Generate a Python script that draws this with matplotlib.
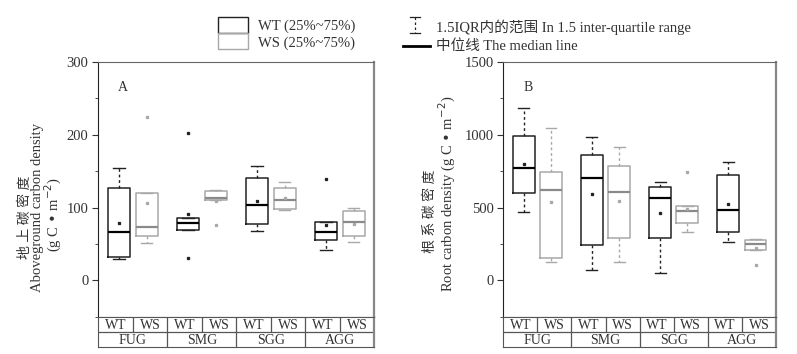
import matplotlib
matplotlib.use('Agg')
import matplotlib.pyplot as plt
from matplotlib.patches import Rectangle
from matplotlib.lines import Line2D

plt.rcParams['font.family'] = ['Liberation Serif', 'Noto Sans CJK SC']

groups = ['FUG', 'SMG', 'SGG', 'AGG']
types = ['WT', 'WS']

# panel A: aboveground carbon density
a_wt_lo = [28.8, 68.7, 67.3, 41.2]
a_wt_q1 = [31.6, 68.7, 77.0, 55.8]
a_wt_med = [66.8, 79.0, 103.9, 66.0]
a_wt_q3 = [127.0, 85.0, 140.0, 79.7]
a_wt_hi = [154.0, 85.0, 157.5, 79.7]
a_wt_mean = [78.7, 90.6, 108.5, 75.5]
a_wt_out = [[], [202.0, 30.2], [], [139.0]]

a_ws_lo = [50.8, 110.3, 96.0, 52.6]
a_ws_q1 = [60.8, 110.3, 97.5, 61.3]
a_ws_med = [73.6, 112.6, 110.3, 80.0]
a_ws_q3 = [119.5, 122.7, 127.3, 94.8]
a_ws_hi = [119.5, 124.0, 135.0, 99.0]
a_ws_mean = [105.7, 109.0, 113.0, 77.0]
a_ws_out = [[224.7], [75.5], [], []]

# panel B: root carbon density
b_wt_lo = [468, 69, 48, 265]
b_wt_q1 = [599, 244, 290, 334]
b_wt_med = [770, 700, 569, 484]
b_wt_q3 = [993, 864, 641, 726]
b_wt_hi = [1185, 984, 675, 816]
b_wt_mean = [797, 595, 465, 526]
b_wt_out = [[], [], [], []]

b_ws_lo = [124, 124, 332, 210]
b_ws_q1 = [152, 290, 396, 210]
b_ws_med = [620, 606, 475, 251]
b_ws_q3 = [742, 788, 512, 277]
b_ws_hi = [1044, 913, 512, 283]
b_ws_mean = [535, 544, 493, 225]
b_ws_out = [[], [], [744], [106]]

W, H = 797, 354
fig = plt.figure(figsize=(W / 100, H / 100), dpi=100)
TXT = '#333333'
FS = 10


def stats(lo, q1, med, q3, hi, mean, out):
    return [dict(whislo=lo[i], q1=q1[i], med=med[i], q3=q3[i], whishi=hi[i],
                 mean=mean[i], fliers=out[i]) for i in range(len(lo))]


def draw_boxes(ax, st, pos, color, medcolor):
    ax.bxp(st, positions=pos, widths=0.64, showmeans=True, patch_artist=False,
           boxprops=dict(color=color, lw=1.1),
           whiskerprops=dict(color=color, lw=1.0, ls=(0, (2, 2))),
           capprops=dict(color=color, lw=1.0),
           medianprops=dict(color=medcolor, lw=1.6),
           meanprops=dict(marker='s', markersize=1.4, markerfacecolor=color,
                          markeredgecolor=color),
           flierprops=dict(marker='s', markersize=1.4, markerfacecolor=color,
                           markeredgecolor=color, ls='none'))


def panel(left_px, right_px, ylim, ticks, minor, wt, ws, letter):
    l = left_px / W
    w = (right_px - left_px) / W
    ax = fig.add_axes([l, 1 - 316.7 / H, w, (316.7 - 62) / H])
    centers = [1, 3, 5, 7]
    draw_boxes(ax, wt, [c - 0.4 for c in centers], '#222222', '#000000')
    draw_boxes(ax, ws, [c + 0.4 for c in centers], '#a8a8a8', '#8a8a8a')
    ax.set_xlim(0, 8)
    ax.set_ylim(*ylim)
    ax.set_xticks([])
    ax.set_yticks(ticks)
    ax.set_yticks(minor, minor=True)
    ax.tick_params(axis='y', which='major', direction='out', length=4,
                   labelsize=FS + 0.5, colors='#333333', pad=3)
    ax.tick_params(axis='y', which='minor', direction='out', length=2,
                   colors='#333333')
    for t in ax.get_yticklabels():
        t.set_color(TXT)
    ax.spines['left'].set_color('#222222')
    ax.spines['top'].set_color('#666666')
    ax.spines['right'].set_color('#888888')
    ax.spines['right'].set_linewidth(1.6)
    ax.spines['bottom'].set_color('#555555')
    ax.text(0.09, 0.9, letter, transform=ax.transAxes, fontsize=FS, color=TXT,
            ha='center', va='center')

    # category table below
    tb = fig.add_axes([l, 1 - 346.7 / H, w, 30 / H])
    tb.set_xlim(0, 8)
    tb.set_ylim(0, 2)
    tb.set_xticks([])
    tb.set_yticks([])
    for s in tb.spines.values():
        s.set_color('#555555')
    tb.spines['right'].set_color('#888888')
    tb.spines['right'].set_linewidth(1.6)
    tb.axhline(1, color='#555555', lw=0.9)
    for k in range(1, 8):
        tb.vlines(k, 1 if k % 2 else 0, 2, color='#555555', lw=0.9)
    for k in range(8):
        tb.text(k + 0.5, 1.42, types[k % 2], ha='center', va='center',
                fontsize=FS, color=TXT)
    for g, name in enumerate(groups):
        tb.text(2 * g + 1, 0.4, name, ha='center', va='center', fontsize=FS,
                color=TXT)
    return ax


panel(98.3, 374.3, (-50, 300), [0, 100, 200, 300], [-50, 50, 150, 250],
      stats(a_wt_lo, a_wt_q1, a_wt_med, a_wt_q3, a_wt_hi, a_wt_mean, a_wt_out),
      stats(a_ws_lo, a_ws_q1, a_ws_med, a_ws_q3, a_ws_hi, a_ws_mean, a_ws_out),
      'A')
panel(503.3, 776, (-250, 1500), [0, 500, 1000, 1500], [-250, 250, 750, 1250],
      stats(b_wt_lo, b_wt_q1, b_wt_med, b_wt_q3, b_wt_hi, b_wt_mean, b_wt_out),
      stats(b_ws_lo, b_ws_q1, b_ws_med, b_ws_q3, b_ws_hi, b_ws_mean, b_ws_out),
      'B')

# y labels
fig.text(25 / W, 1 - 217 / H, '地 上 碳 密 度', rotation=90, ha='center',
         va='center', fontsize=FS, color=TXT)
fig.text(38 / W, 1 - 207 / H, 'Aboveground carbon density', rotation=90,
         ha='center', va='center', fontsize=FS + 0.5, color=TXT)
fig.text(53 / W, 1 - 215 / H, '(g C • m$^{-2}$)', rotation=90, ha='center',
         va='center', fontsize=FS + 0.5, color=TXT)
fig.text(430 / W, 1 - 211 / H, '根 系 碳 密 度', rotation=90, ha='center',
         va='center', fontsize=FS, color=TXT)
fig.text(447 / W, 1 - 194 / H, 'Root carbon density (g C • m$^{-2}$)',
         rotation=90, ha='center', va='center', fontsize=FS + 0.5, color=TXT)


# legend, drawn in pixel coordinates of the figure
def fx(x):
    return x / W


def fy(y):
    return 1 - y / H


fig.add_artist(Rectangle((fx(218), fy(33)), 30 / W, 16 / H, fill=False,
                         ec='#222222', lw=1.0, transform=fig.transFigure))
fig.add_artist(Rectangle((fx(218), fy(49)), 30 / W, 16 / H, fill=False,
                         ec='#a8a8a8', lw=1.0, transform=fig.transFigure))
fig.text(fx(258), fy(26), 'WT (25%~75%)', fontsize=FS + 0.5, color=TXT,
         va='center')
fig.text(fx(258), fy(43), 'WS (25%~75%)', fontsize=FS + 0.5, color=TXT,
         va='center')

fig.add_artist(Line2D([fx(415), fx(415)], [fy(17), fy(33)], color='#222222',
                      lw=0.9, ls=(0, (2, 2)), transform=fig.transFigure))
for yy in (17, 33):
    fig.add_artist(Line2D([fx(410), fx(420)], [fy(yy), fy(yy)], color='#222222',
                          lw=0.9, transform=fig.transFigure))
fig.add_artist(Line2D([fx(403), fx(430)], [fy(46), fy(46)], color='#000000',
                      lw=2.0, transform=fig.transFigure))
fig.text(fx(436), fy(27), '1.5IQR内的范围 In 1.5 inter-quartile range',
         fontsize=FS + 0.5, color=TXT, va='center')
fig.text(fx(436), fy(46), '中位线 The median line', fontsize=FS + 0.5,
         color=TXT, va='center')

fig.savefig('out.png', dpi=100)
